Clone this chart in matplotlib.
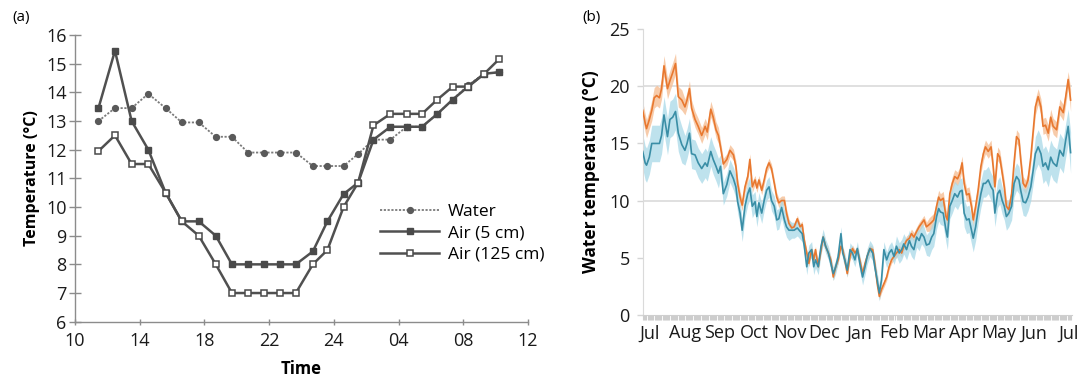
import numpy as np
import matplotlib
matplotlib.use("Agg")
import matplotlib.pyplot as plt

plt.rcParams['font.family'] = ['Open Sans', 'DejaVu Sans']

# ---------------- Panel (a) data ----------------
time_pos = [1.45, 2.47, 3.5, 4.53, 5.6, 6.6, 7.65, 8.7, 9.7, 10.7, 11.7, 12.7, 13.65,
            14.7, 15.6, 16.6, 17.5, 18.45, 19.5, 20.5, 21.45, 22.4, 23.35, 24.3, 25.3, 26.2]
water = [13.0, 13.45, 13.45, 13.95, 13.45, 12.95, 12.95, 12.45, 12.45, 11.9, 11.9, 11.9, 11.9,
         11.43, 11.43, 11.43, 11.85, 12.35, 12.35, 12.8, 12.8, 13.25, 13.75, 14.25, 14.65, 14.7]
air_5 = [13.45, 15.45, 13.0, 12.0, 10.5, 9.5, 9.5, 9.0, 8.0, 8.0, 8.0, 8.0, 8.0,
         8.45, 9.5, 10.45, 10.85, 12.35, 12.8, 12.8, 12.8, 13.25, 13.75, 14.2, 14.65, 14.7]
air_125 = [11.95, 12.5, 11.5, 11.5, 10.5, 9.5, 9.0, 8.0, 7.0, 7.0, 7.0, 7.0, 7.0,
           8.0, 8.5, 10.0, 10.85, 12.85, 13.25, 13.25, 13.25, 13.75, 14.2, 14.2, 14.65, 15.15]
time_ticks = [0, 4, 8, 12, 16, 20, 24, 28]
time_labels = ['10', '14', '18', '22', '24', '04', '08', '12']

# ---------------- Panel (b) data ----------------
month_pos = [-0.21, -0.14, -0.10, -0.02, 0.05, 0.12, 0.19, 0.27, 0.33, 0.40, 0.50, 0.57, 0.65, 0.73,
             0.81, 0.91, 1.00, 1.06, 1.13, 1.19, 1.29, 1.38, 1.48, 1.58, 1.64, 1.74, 1.81, 1.89,
             1.96, 2.02, 2.10, 2.20, 2.29, 2.39, 2.46,
             2.51, 2.58, 2.64, 2.72, 2.80, 2.86, 2.93, 3.01, 3.06, 3.12, 3.20, 3.27, 3.34, 3.41,
             3.48, 3.56, 3.63, 3.69, 3.77, 3.85, 3.91, 3.98, 4.06, 4.13, 4.22, 4.30, 4.36, 4.42,
             4.49, 4.55, 4.63, 4.69, 4.74, 4.82, 4.90, 4.96, 5.03, 5.11, 5.18, 5.25, 5.32, 5.39, 5.47,
             5.52, 5.58, 5.65, 5.73, 5.80, 5.87, 5.94, 6.01, 6.09, 6.16, 6.22, 6.30, 6.38, 6.44,
             6.51, 6.57, 6.63, 6.70, 6.78, 6.85, 6.92, 6.99, 7.06, 7.14, 7.21, 7.27, 7.35, 7.43,
             7.49, 7.56, 7.64, 7.71, 7.78, 7.85, 7.92, 8.00, 8.07, 8.13, 8.21, 8.27, 8.32, 8.40, 8.48,
             8.52, 8.59, 8.66, 8.73, 8.81, 8.88, 8.94, 9.00, 9.07, 9.14, 9.21, 9.26, 9.33, 9.40,
             9.48, 9.55, 9.61, 9.69, 9.77, 9.83, 9.88, 9.96, 10.02, 10.09, 10.15, 10.21, 10.28,
             10.36, 10.43, 10.50, 10.57, 10.62, 10.69, 10.76, 10.83, 10.91, 10.98, 11.04, 11.12,
             11.20, 11.26, 11.33, 11.41, 11.48, 11.55, 11.65, 11.74, 11.84, 11.91, 11.98, 12.05]
temp_orange = [17.9, 16.8, 16.3, 17.1, 17.9, 19.0, 19.2, 19.0, 19.8, 21.8, 19.8, 20.5, 21.2, 22.0,
               19.1, 18.8, 18.2, 18.8, 19.8, 18.1, 17.1, 16.5, 15.7, 16.5, 16.0, 18.0, 17.3, 16.2,
               15.7, 14.7, 13.2, 13.6, 14.4, 14.0, 13.0,
               11.5, 10.3, 9.6, 11.2, 12.1, 13.6, 11.2, 11.8, 11.1, 11.8, 10.9, 11.8, 12.8, 13.3,
               12.8, 11.5, 10.3, 9.8, 10.0, 10.0, 8.9, 8.0, 7.6, 7.7, 8.4, 7.7, 7.9, 6.5,
               5.4, 4.5, 5.7, 4.8, 5.7, 4.2, 5.7, 6.8, 6.0, 5.4, 4.8, 3.3, 4.2, 4.8, 6.0,
               5.7, 4.8, 3.6, 5.1, 5.8, 5.4, 5.7, 4.8, 3.6, 4.5, 5.1, 5.8, 5.7, 4.5,
               2.7, 1.6, 2.2, 2.7, 3.3, 4.2, 4.8, 5.1, 5.4, 5.7, 5.4, 6.0, 6.5, 6.7,
               7.1, 6.8, 7.3, 7.7, 8.0, 8.3, 7.7, 7.9, 8.1, 8.3, 9.5, 10.3, 10.0, 10.2, 8.6,
               8.3, 10.6, 11.5, 12.1, 11.9, 12.4, 13.3, 11.5, 10.5, 10.6, 9.5, 8.3, 9.5, 10.9,
               13.0, 14.1, 14.7, 14.3, 14.7, 13.0, 11.2, 14.1, 13.8, 12.4, 11.2, 9.5, 9.2,
               10.6, 13.3, 15.6, 15.3, 13.6, 11.5, 11.2, 11.8, 13.8, 16.2, 18.2, 19.1,
               18.2, 16.5, 16.6, 15.9, 17.3, 16.5, 16.2, 18.2, 17.7, 19.1, 20.6, 18.8]
temp_teal = [14.3, 13.3, 13.1, 13.8, 15.0, 15.0, 15.0, 15.0, 15.7, 17.5, 15.6, 17.1, 17.3, 17.8,
             15.9, 14.9, 14.4, 15.0, 15.9, 14.1, 14.0, 13.3, 12.8, 13.3, 13.0, 14.3, 13.6, 13.0,
             12.4, 13.0, 10.6, 11.4, 12.6, 11.9, 11.2,
             9.9, 8.9, 7.4, 9.5, 10.6, 11.1, 9.5, 9.9, 8.6, 9.8, 8.9, 10.0, 10.9, 11.2,
             10.0, 9.5, 8.3, 8.4, 9.4, 8.3, 7.7, 7.4, 7.4, 7.4, 7.6, 7.3, 7.1, 6.0,
             4.2, 5.4, 5.7, 4.2, 4.8, 4.2, 6.0, 6.8, 6.0, 5.4, 4.5, 3.6, 4.2, 5.1, 7.1,
             5.4, 4.8, 3.9, 5.7, 5.4, 4.8, 5.8, 4.5, 3.3, 4.2, 5.1, 5.8, 5.4, 4.2,
             3.0, 1.9, 3.0, 5.7, 4.8, 5.4, 5.7, 5.1, 6.0, 5.4, 5.7, 6.2, 5.7, 6.5,
             6.0, 5.7, 6.8, 6.5, 7.1, 6.8, 6.1, 6.2, 6.8, 7.1, 8.6, 9.3, 9.0, 8.9, 7.4,
             6.8, 9.5, 10.0, 10.6, 10.3, 10.8, 10.9, 8.9, 8.3, 8.4, 7.4, 6.7, 7.7, 9.2,
             10.6, 11.5, 11.5, 11.8, 11.2, 10.9, 8.9, 10.6, 10.9, 10.0, 9.5, 8.6, 8.9,
             9.5, 11.5, 12.1, 11.8, 10.9, 9.9, 9.8, 10.3, 11.2, 12.7, 14.1, 14.7,
             14.1, 13.0, 13.3, 12.7, 13.8, 13.3, 13.0, 14.4, 13.9, 15.3, 16.5, 14.2]
# half-width of the shaded uncertainty band, per month (Jun-end, Jul ... Jun, Jul)
band_orange = [0.8, 0.9, 0.7, 0.5, 0.4, 0.3, 0.3, 0.3, 0.4, 0.6, 0.6, 0.6, 0.7, 1.0]
band_teal = [1.5, 1.6, 1.3, 1.0, 0.9, 0.7, 0.6, 0.7, 0.9, 1.1, 1.2, 1.2, 1.5, 1.8]
month_labels = ['Jul', 'Aug', 'Sep', 'Oct', 'Nov', 'Dec', 'Jan', 'Feb', 'Mar',
                'Apr', 'May', 'Jun', 'Jul']

W, H = 1087, 380
fig = plt.figure(figsize=(W / 100, H / 100), dpi=100)

# ================= Panel (a) =================
axA = fig.add_axes([75 / W, (H - 321.7) / H, (528 - 75) / W, (321.7 - 35) / H])
axcol = '#8c8c8c'
lcol = '#505050'
axA.plot(time_pos, water, color='#7a7a7a', lw=1.3, ls=(0, (1.2, 0.9)),
         marker='o', ms=4.2, mfc='#5a5a5a', mec='#5a5a5a', label='Water')
axA.plot(time_pos, air_5, color=lcol, lw=1.8, marker='s', ms=4.6,
         mfc='#4a4a4a', mec='#4a4a4a', label='Air (5 cm)')
axA.plot(time_pos, air_125, color=lcol, lw=1.8, marker='s', ms=4.6,
         mfc='white', mec='#4a4a4a', mew=1.1, label='Air (125 cm)')
axA.set_xlim(0, 28)
axA.set_ylim(6, 16)
axA.set_xticks(time_ticks)
axA.set_xticklabels(time_labels)
axA.set_yticks(range(6, 17))
for s in ['top', 'right']:
    axA.spines[s].set_visible(False)
for s in ['left', 'bottom']:
    axA.spines[s].set_color(axcol)
    axA.spines[s].set_linewidth(1.0)
axA.tick_params(axis='y', direction='inout', length=8, width=1, color=axcol,
                labelsize=13, pad=2, labelcolor='#1a1a1a')
axA.tick_params(axis='x', direction='inout', length=5, width=1, color=axcol,
                labelsize=13, pad=5, labelcolor='#1a1a1a')
axA.set_ylabel('Temperature (°C)', fontsize=11.5, fontweight='bold', labelpad=4)
axA.set_xlabel('Time', fontsize=12, fontweight='bold', labelpad=7)
leg = axA.legend(loc='upper left', bbox_to_anchor=((380 - 75) / 453, (321.7 - 204) / 286.7),
                 frameon=False, fontsize=12.5, handlelength=3.4, handletextpad=0.5,
                 labelspacing=0.3, borderpad=0, borderaxespad=0, numpoints=1)
fig.text(12 / W, 1 - 17 / H, '(a)', fontsize=11, va='center', ha='left')

# ================= Panel (b) =================
axB = fig.add_axes([642.7 / W, (H - 314.7) / H, (1072 - 642.7) / W, (314.7 - 29.3) / H])
t = np.array(month_pos)
o = np.array(temp_orange)
c = np.array(temp_teal)
idx = np.clip(np.floor(t).astype(int) + 1, 0, len(band_orange) - 1)
ho = np.array(band_orange)[idx]
hc = np.array(band_teal)[idx]

for yv in (10, 20):
    axB.axhline(yv, color='#dddddd', lw=1.3, zorder=0)
axB.fill_between(t, o - ho, o + ho, color='#f6bf95', alpha=0.8, lw=0, zorder=1)
axB.fill_between(t, c - hc, c + hc, color='#a9d9e8', alpha=0.75, lw=0, zorder=2)
axB.plot(t, o, color='#e8782f', lw=1.2, zorder=3)
axB.plot(t, c, color='#3a8ea6', lw=1.2, zorder=4)

axB.set_xlim(-0.21, 12.09)
axB.set_ylim(0, 25)
axB.set_yticks(range(0, 26, 5))
axB.set_xticks(range(13))
axB.set_xticklabels(month_labels)
axB.set_xticks(np.arange(-0.2, 12.09, 12 / 365), minor=True)
for s in ['top', 'right']:
    axB.spines[s].set_visible(False)
axB.spines['left'].set_color('#dadada')
axB.spines['bottom'].set_color('#cfcfcf')
axB.tick_params(axis='y', direction='out', length=4.3, width=1, color='#d5d5d5',
                labelsize=13, pad=5, labelcolor='#1a1a1a')
axB.tick_params(axis='x', which='major', length=0, labelsize=13, pad=7,
                labelcolor='#1a1a1a')
axB.tick_params(axis='x', which='minor', direction='out', length=3.6, width=0.8,
                color='#cdcdcd')
axB.set_ylabel('Water temperature (°C)', fontsize=12.5, fontweight='bold', labelpad=7)
fig.text(582 / W, 1 - 17 / H, '(b)', fontsize=11, va='center', ha='left')

fig.savefig('out.png', dpi=100)
